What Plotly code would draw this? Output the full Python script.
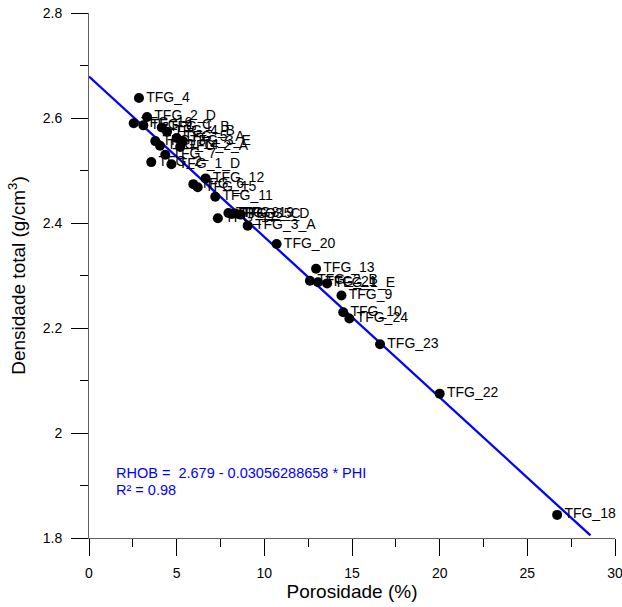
import plotly.graph_objects as go

# ---- data ----
labels = ["TFG_4", "TFG_2_D", "TFG_16", "TFG_1_C", "TFG_1_B", "TFG_4_B", "TFG_3",
          "TFG_14", "TFG_5_A", "TFG_3_E", "TFG_2_A", "TFG_7", "TFG_2", "TFG_1_D",
          "TFG_12", "TFG_6", "TFG_15", "TFG_11", "TFG_17", "TFG_8", "TFG_3_C",
          "TFG_19", "TFG_5_D", "TFG_3_A", "TFG_20", "TFG_13", "TFG_2_B", "TFG_21",
          "TFG_1_E", "TFG_9", "TFG_10", "TFG_24", "TFG_23", "TFG_22", "TFG_18"]
phi = [2.85, 3.31, 2.55, 3.10, 4.15, 4.45, 3.78,
       4.05, 5.00, 5.35, 5.20, 4.35, 3.55, 4.70,
       6.65, 5.95, 6.20, 7.20, 7.35, 7.95, 8.15,
       8.35, 8.65, 9.05, 10.70, 12.95, 12.60, 13.06,
       13.58, 14.40, 14.50, 14.85, 16.60, 20.00, 26.70]
rhob = [2.638, 2.602, 2.590, 2.586, 2.582, 2.574, 2.556,
        2.547, 2.562, 2.556, 2.545, 2.530, 2.516, 2.512,
        2.485, 2.474, 2.468, 2.450, 2.409, 2.419, 2.417,
        2.418, 2.416, 2.395, 2.360, 2.313, 2.290, 2.287,
        2.285, 2.262, 2.230, 2.218, 2.169, 2.075, 1.844]

x_ticks = [0, 5, 10, 15, 20, 25, 30]
x_ticktext = ["0", "5", "10", "15", "20", "25", "30"]
y_ticks = [1.8, 2.0, 2.2, 2.4, 2.6, 2.8]
y_ticktext = ["1.8", "2", "2.2", "2.4", "2.6", "2.8"]

intercept = 2.679
slope = -0.03056288658
line_x = [0, 28.6]
line_y = [intercept + slope * v for v in line_x]

font_family = "Arial, Liberation Sans, sans-serif"

fig = go.Figure()
fig.add_trace(go.Scatter(
    x=line_x, y=line_y, mode="lines",
    line=dict(color="#0000ff", width=2.3),
    hoverinfo="skip", showlegend=False,
))
fig.add_trace(go.Scatter(
    x=phi, y=rhob, mode="markers+text",
    text=labels, textposition="middle right",
    textfont=dict(family=font_family, size=14, color="black"),
    marker=dict(color="black", size=10),
    cliponaxis=False,
    showlegend=False,
))

fig.add_annotation(
    x=1.4, y=1.924, xref="x", yref="y", xanchor="left", yanchor="middle",
    text="RHOB =  2.679 - 0.03056288658 * PHI", showarrow=False,
    font=dict(family=font_family, size=14.5, color="#0000ff"),
)
fig.add_annotation(
    x=1.4, y=1.891, xref="x", yref="y", xanchor="left", yanchor="middle",
    text="R² = 0.98", showarrow=False,
    font=dict(family=font_family, size=14.5, color="#0000ff"),
)

fig.update_layout(
    width=622, height=607,
    margin=dict(l=89, r=7, t=13, b=69),
    paper_bgcolor="white", plot_bgcolor="white",
    font=dict(family=font_family, size=14, color="black"),
)
fig.update_xaxes(
    range=[0, 30], showgrid=False, zeroline=False, automargin=False,
    showline=True, linecolor="#606060", linewidth=1,
    ticks="outside", ticklen=17, tickcolor="black", tickwidth=1,
    tickmode="array", tickvals=x_ticks, ticktext=x_ticktext,
    minor=dict(ticks="outside", ticklen=8, tickcolor="black", dtick=2.5, tick0=0, showgrid=False),
    tickfont=dict(size=14), ticklabelstandoff=5, ticklabeloverflow="allow",
    title=dict(text="Porosidade (%)", font=dict(size=19), standoff=2),
)
fig.update_yaxes(
    range=[1.8, 2.8], showgrid=False, zeroline=False, automargin=False,
    showline=True, linecolor="#606060", linewidth=1,
    ticks="outside", ticklen=17, tickcolor="black", tickwidth=1,
    tickmode="array", tickvals=y_ticks, ticktext=y_ticktext,
    minor=dict(ticks="outside", ticklen=8, tickcolor="black", dtick=0.1, tick0=1.8, showgrid=False),
    tickfont=dict(size=14), ticklabelstandoff=6, ticklabeloverflow="allow",
    title=dict(text="Densidade total (g/cm<sup>3</sup>)", font=dict(size=19), standoff=12),
)

fig.write_html("out.html")
